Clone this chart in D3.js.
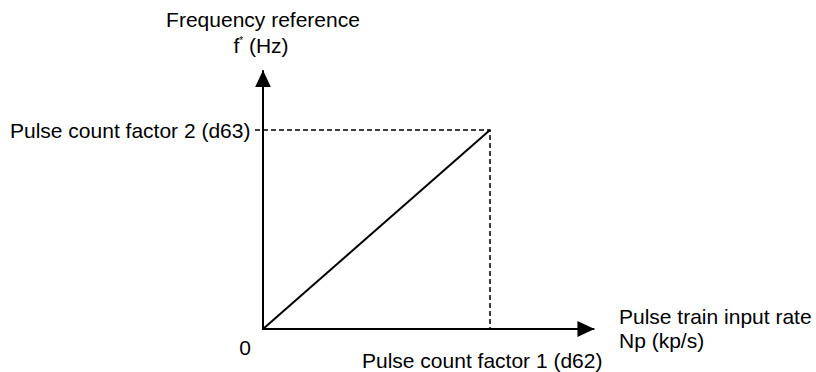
<!DOCTYPE html>
<html>
<head>
<meta charset="utf-8">
<script src="https://cdn.jsdelivr.net/npm/d3@7"></script>
<style>
  html, body { margin: 0; padding: 0; background: #fff; }
  svg { display: block; }
  text { font-family: "Liberation Sans", Arial, sans-serif; font-size: 21px; fill: #000; }
</style>
</head>
<body>
<svg id="chart" width="816" height="372"></svg>
<script>
// Pulse train input rate (normalised to pulse count factor 1) and the
// resulting frequency reference (normalised to pulse count factor 2)
const pulseRate = [0, 1];
const freqRef = [0, 1];

// Axis extents, in the same normalised units
const xAxisEnd = [1.46];
const yAxisEnd = [1.3];

// Labels
const xAxisTitle = ["Pulse train input rate", "Np (kp/s)"];
const yAxisTitle = ["Frequency reference", "f", "*", " (Hz)"];
const xTickLabels = ["Pulse count factor 1 (d62)"];
const yTickLabels = ["Pulse count factor 2 (d63)"];
const originLabels = ["0"];

const svg = d3.select("#chart");

const x = d3.scaleLinear().domain([0, 1]).range([263, 490]);
const y = d3.scaleLinear().domain([0, 1]).range([329, 130]);

// Arrowhead marker
const defs = svg.append("defs");
defs.append("marker")
  .attr("id", "arrow")
  .attr("viewBox", "0 0 17 16")
  .attr("refX", 17).attr("refY", 8)
  .attr("markerWidth", 17).attr("markerHeight", 16)
  .attr("markerUnits", "userSpaceOnUse")
  .attr("orient", "auto")
  .append("path")
  .attr("d", "M0,0 L17,8 L0,16 Z")
  .attr("fill", "#000");

// Dashed guides from the end point to both axes
const xEnd = pulseRate[pulseRate.length - 1];
const yEnd = freqRef[freqRef.length - 1];
svg.append("path")
  .attr("d", `M${x(0) - 8},${y(yEnd)} H${x(xEnd)} V${y(0)}`)
  .attr("fill", "none")
  .attr("stroke", "#000")
  .attr("stroke-width", 1.5)
  .attr("stroke-dasharray", "5,3");

// Axes with arrows
svg.append("line")
  .attr("x1", x(0)).attr("y1", y(0))
  .attr("x2", x(xAxisEnd[0])).attr("y2", y(0))
  .attr("stroke", "#000").attr("stroke-width", 2)
  .attr("marker-end", "url(#arrow)");
svg.append("line")
  .attr("x1", x(0)).attr("y1", y(0) + 1)
  .attr("x2", x(0)).attr("y2", y(yAxisEnd[0]))
  .attr("stroke", "#000").attr("stroke-width", 2)
  .attr("marker-end", "url(#arrow)");

// Characteristic line
const line = d3.line()
  .x((d, i) => x(pulseRate[i]))
  .y((d, i) => y(freqRef[i]));
svg.append("path")
  .datum(pulseRate)
  .attr("d", line)
  .attr("fill", "none")
  .attr("stroke", "#000")
  .attr("stroke-width", 2);

// Y axis title
svg.append("text")
  .attr("x", x(0)).attr("y", 27)
  .attr("text-anchor", "middle")
  .text(yAxisTitle[0]);
const yt = svg.append("text")
  .attr("x", x(0) - 2).attr("y", 53)
  .attr("text-anchor", "middle");
yt.append("tspan").text(yAxisTitle[1]);
yt.append("tspan").attr("dy", -9).style("font-size", "10px").text(yAxisTitle[2]);
yt.append("tspan").attr("dy", 9).text(yAxisTitle[3]);

// X axis title
svg.selectAll("text.xtitle")
  .data(xAxisTitle)
  .join("text")
  .attr("class", "xtitle")
  .attr("x", 619)
  .attr("y", (d, i) => 324 + i * 24)
  .text(d => d);

// Tick labels
svg.append("text")
  .attr("x", 10).attr("y", y(yEnd) + 8)
  .text(yTickLabels[0]);
svg.append("text")
  .attr("x", x(xEnd) - 128).attr("y", 368)
  .text(xTickLabels[0]);
svg.append("text")
  .attr("x", x(0) - 18).attr("y", 355)
  .attr("text-anchor", "middle")
  .text(originLabels[0]);
</script>
</body>
</html>
